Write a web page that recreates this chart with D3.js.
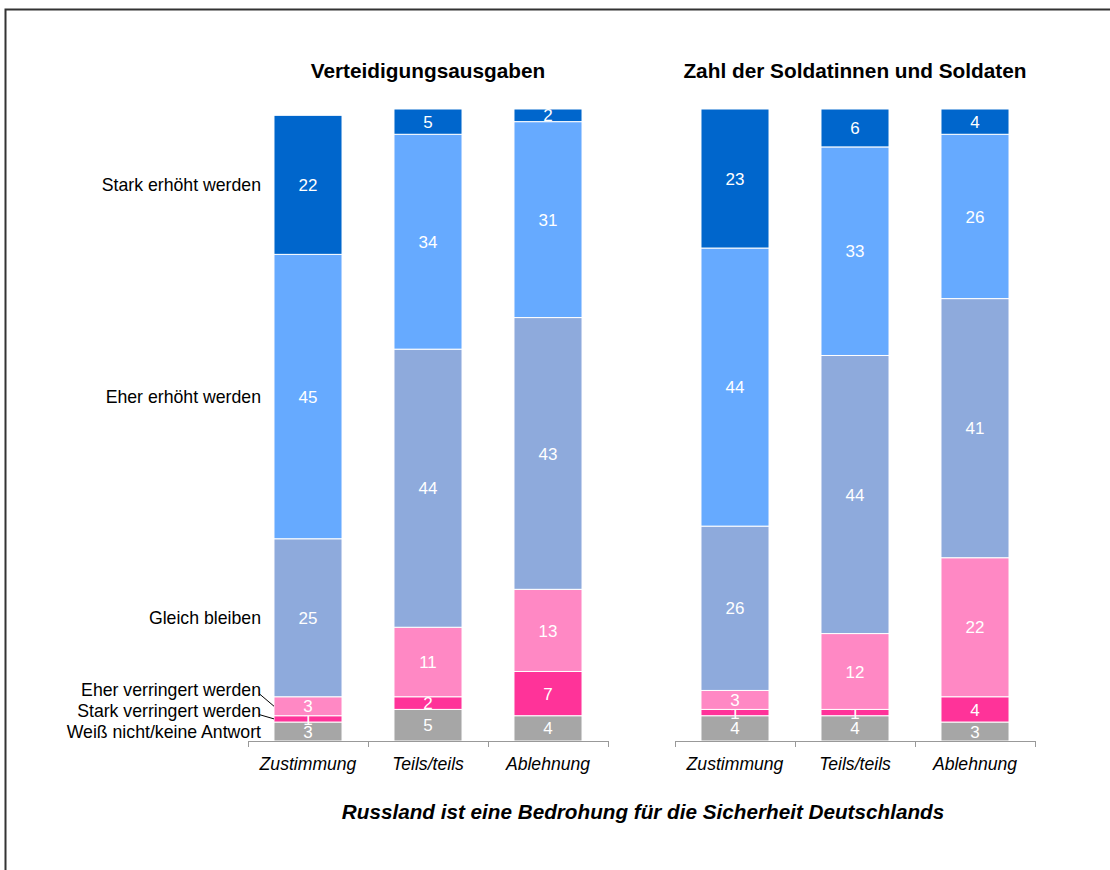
<!DOCTYPE html>
<html>
<head>
<meta charset="utf-8">
<script src="https://cdn.jsdelivr.net/npm/d3@7"></script>
<style>
  body { margin: 0; background: #fff; }
  svg { font-family: Arial, "Liberation Sans", sans-serif; }
</style>
</head>
<body>
<div id="container"></div>
<script>
// data (bottom to top order)
let categories = ["Zustimmung", "Teils/teils", "Ablehnung"];
let responses = ["Weiß nicht/keine Antwort", "Stark verringert werden", "Eher verringert werden",
  "Gleich bleiben", "Eher erhöht werden", "Stark erhöht werden"];
let colors = ["#a6a6a6", "#ff3399", "#ff88c4", "#8eaadc", "#66aaff", "#0066cc"];

// Verteidigungsausgaben
let vWeissNicht = [3, 5, 4];
let vStarkVerringert = [1, 2, 7];
let vEherVerringert = [3, 11, 13];
let vGleich = [25, 44, 43];
let vEherErhoeht = [45, 34, 31];
let vStarkErhoeht = [22, 5, 2];

// Zahl der Soldatinnen und Soldaten
let sWeissNicht = [4, 4, 3];
let sStarkVerringert = [1, 1, 4];
let sEherVerringert = [3, 12, 22];
let sGleich = [26, 44, 41];
let sEherErhoeht = [44, 33, 26];
let sStarkErhoeht = [23, 6, 4];

let panelTitles = ["Verteidigungsausgaben", "Zahl der Soldatinnen und Soldaten"];
let xTitle = "Russland ist eine Bedrohung für die Sicherheit Deutschlands";

function toRows(series) {
  return categories.map((c, i) => {
    let row = { cat: c };
    responses.forEach((r, j) => row[r] = series[j][i]);
    return row;
  });
}

let panels = [
  { title: panelTitles[0], x0: 248, rows: toRows([vWeissNicht, vStarkVerringert, vEherVerringert, vGleich, vEherErhoeht, vStarkErhoeht]) },
  { title: panelTitles[1], x0: 675, rows: toRows([sWeissNicht, sStarkVerringert, sEherVerringert, sGleich, sEherErhoeht, sStarkErhoeht]) }
];

let W = 1110, H = 870;
let svg = d3.select("#container").append("svg")
  .attr("width", W).attr("height", H);

// frame
svg.append("rect")
  .attr("x", 5.5).attr("y", 9.5)
  .attr("width", 1120).attr("height", 900)
  .attr("fill", "none").attr("stroke", "#333").attr("stroke-width", 2);

// axis max is 100, sums above that get cut at the top
let y = d3.scaleLinear().domain([0, 100]).range([741, 109]).clamp(true);
let stack = d3.stack().keys(responses);
let color = d3.scaleOrdinal().domain(responses).range(colors);

panels.forEach(p => {
  let x = d3.scaleBand().domain(categories)
    .range([p.x0, p.x0 + 360])
    .paddingInner(0.433).paddingOuter(0.2165);
  let g = svg.append("g");
  let layers = stack(p.rows);

  let layer = g.selectAll(".layer")
    .data(layers).enter()
    .append("g")
    .attr("fill", d => color(d.key));

  layer.selectAll("rect")
    .data(d => d).enter()
    .append("rect")
    .attr("x", d => x(d.data.cat))
    .attr("y", d => y(d[1]))
    .attr("width", x.bandwidth())
    .attr("height", d => y(d[0]) - y(d[1]))
    .attr("stroke", "#fff")
    .attr("stroke-width", 1);

  layer.selectAll("text")
    .data(d => d).enter()
    .append("text")
    .attr("x", d => x(d.data.cat) + x.bandwidth() / 2)
    .attr("y", d => (y(d[0]) + y(d[1])) / 2)
    .attr("dy", "0.36em")
    .attr("text-anchor", "middle")
    .attr("fill", "#fff")
    .style("font-size", "17px")
    .text(d => d[1] - d[0]);

  // axis with ticks at band boundaries
  let xb = d3.scaleLinear().domain([0, 3]).range([p.x0, p.x0 + 360]);
  let ax = g.append("g")
    .attr("transform", "translate(0,741)")
    .call(d3.axisBottom(xb).ticks(3).tickFormat("").tickSize(6).tickSizeOuter(6));
  ax.select(".domain").attr("stroke", "#999");
  ax.selectAll(".tick line").attr("stroke", "#999");

  g.selectAll(".cat")
    .data(categories).enter()
    .append("text")
    .attr("x", d => x(d) + x.bandwidth() / 2)
    .attr("y", 770)
    .attr("text-anchor", "middle")
    .style("font-size", "17.6px")
    .style("font-style", "italic")
    .text(d => d);

  g.append("text")
    .attr("x", p.x0 + 180)
    .attr("y", 78)
    .attr("text-anchor", "middle")
    .style("font-size", "20.8px")
    .style("font-weight", "bold")
    .text(p.title);
});

// response labels next to the first bar
let first = stack(panels[0].rows).map(l => l[0]);
let xFirst = 274;
let prevY = Infinity;
let labelPos = first.map((d, i) => {
  let c = (y(d[0]) + y(d[1])) / 2;
  let ly = Math.min(c, prevY - 21);
  prevY = ly;
  return { key: responses[i], y: ly, c: c };
});

svg.selectAll(".rlabel")
  .data(labelPos).enter()
  .append("text")
  .attr("x", 261)
  .attr("y", d => d.y)
  .attr("dy", "0.36em")
  .attr("text-anchor", "end")
  .style("font-size", "17.7px")
  .text(d => d.key);

svg.selectAll(".leader")
  .data(labelPos.filter(d => Math.abs(d.c - d.y) > 3)).enter()
  .append("line")
  .attr("x1", 259).attr("y1", d => d.y + 4)
  .attr("x2", xFirst).attr("y2", d => d.c)
  .attr("stroke", "#000").attr("stroke-width", 1);

svg.append("text")
  .attr("x", 643)
  .attr("y", 819)
  .attr("text-anchor", "middle")
  .style("font-size", "20.7px")
  .style("font-weight", "bold")
  .style("font-style", "italic")
  .text(xTitle);
</script>
</body>
</html>
